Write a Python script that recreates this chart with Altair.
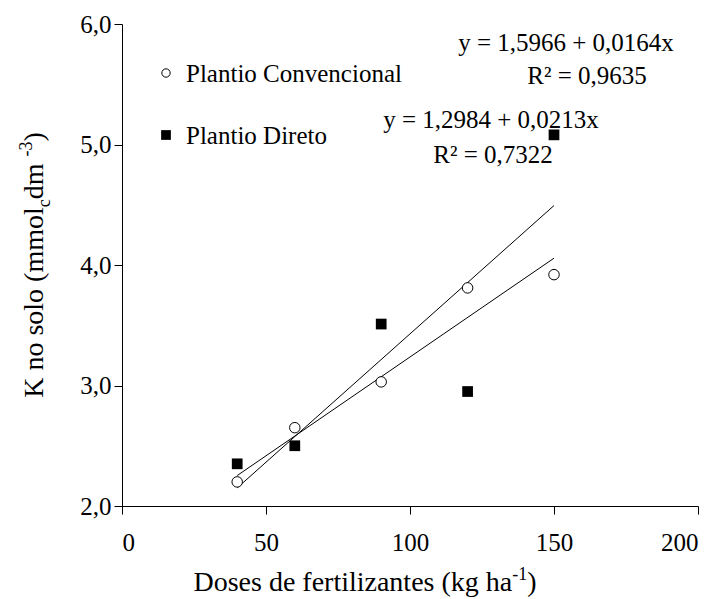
import altair as alt
import pandas as pd

# Potassium in soil versus fertilizer dose, two tillage systems
doses = [40, 60, 90, 120, 150]
k_convencional = [2.20, 2.65, 3.03, 3.81, 3.92]
k_direto = [2.35, 2.50, 3.51, 2.95, 5.08]

# fitted linear models (intercept, slope) and their R² as printed on the chart
coef_convencional = (1.5966, 0.0164)
coef_direto = (1.2984, 0.0213)
eq_convencional = "y = 1,5966 + 0,0164x"
eq_direto = "y = 1,2984 + 0,0213x"
r2_convencional = "R² = 0,9635"
r2_direto = "R² = 0,7322"

x_ticks = [0, 50, 100, 150, 200]
y_ticks = [2, 3, 4, 5, 6]

FONT = "Liberation Serif"
W, H = 576, 482
PAD = {"left": 122, "top": 24, "right": 22, "bottom": 93}

# Times-compatible advance widths (em) used to lay out titles with sub/superscripts
ADV = {'K': .722, ' ': .25, 'n': .5, 'o': .5, 's': .389, 'l': .278, '(': .333,
       ')': .333, 'm': .778, 'c': .444, 'd': .5, '-': .333, '3': .5, '1': .5,
       'D': .722, 'e': .444, 'f': .333, 'r': .333, 't': .278, 'i': .278,
       'z': .444, 'a': .444, 'k': .5, 'g': .5, 'h': .5}


def text_width(s, size):
    return sum(ADV.get(ch, .5) for ch in s) * size


one = pd.DataFrame({"k": [0]})


def label(text, x, y, size=25, align="left", angle=0, dx=0.0, dy=0.0):
    return alt.Chart(one).mark_text(
        text=text, font=FONT, fontSize=size, align=align, baseline="alphabetic",
        angle=angle, dx=dx, dy=dy, color="black"
    ).encode(x=alt.value(x), y=alt.value(y))


def rich_title(pieces, x, y, angle=0):
    """pieces: (text, size, shift) laid out along the baseline, centred on (x, y)."""
    total = sum(text_width(t, s) for t, s, _ in pieces)
    pos = -total / 2
    layers = []
    for t, s, shift in pieces:
        layers.append(label(t, x, y, size=s, angle=angle, dx=pos, dy=shift))
        pos += text_width(t, s)
    return layers


points = pd.DataFrame({
    "dose": doses * 2,
    "k": k_convencional + k_direto,
    "sistema": ["Convencional"] * len(doses) + ["Direto"] * len(doses),
})

fit_rows = []
for name, (a, b) in [("Convencional", coef_convencional), ("Direto", coef_direto)]:
    for d in (min(doses), max(doses)):
        fit_rows.append({"dose": d, "k": a + b * d, "sistema": name})
fits = pd.DataFrame(fit_rows)

x_enc = alt.X("dose:Q", scale=alt.Scale(domain=[0, 200], nice=False),
              axis=alt.Axis(values=x_ticks, title=None, labelPadding=16))
y_enc = alt.Y("k:Q", scale=alt.Scale(domain=[2, 6], nice=False, zero=False),
              axis=alt.Axis(values=y_ticks, title=None, labelPadding=3,
                            labelExpr="replace(format(datum.value, '.1f'), '.', ',')"))

lines = alt.Chart(fits).mark_line(color="black", strokeWidth=1).encode(
    x=x_enc, y=y_enc, detail="sistema:N")

circles = alt.Chart(points).transform_filter(
    alt.datum.sistema == "Convencional"
).mark_point(shape="circle", size=110, filled=True, fill="white",
             stroke="black", strokeWidth=1, opacity=1).encode(x=x_enc, y=y_enc)

squares = alt.Chart(points).transform_filter(
    alt.datum.sistema == "Direto"
).mark_point(shape="square", size=115, filled=True, color="black",
             opacity=1).encode(x=x_enc, y=y_enc)

# hand-drawn key
key_circle = alt.Chart(one).mark_point(
    shape="circle", size=70, filled=True, fill="white", stroke="black",
    strokeWidth=1, opacity=1).encode(x=alt.value(44), y=alt.value(49))
key_square = alt.Chart(one).mark_point(
    shape="square", size=95, filled=True, color="black", opacity=1
).encode(x=alt.value(44), y=alt.value(111))

annotations = [
    key_circle, key_square,
    label("Plantio Convencional", 64, 58),
    label("Plantio Direto", 64, 120),
    label(eq_convencional, 444, 27, align="center"),
    label(r2_convencional, 465, 60, align="center"),
    label(eq_direto, 369, 104, align="center"),
    label(r2_direto, 371, 139, align="center"),
]

y_title = rich_title(
    [("K no solo (mmol", 28, 0), ("c", 18, 7), (" dm", 28, 0),
     ("-3", 18, -11), (")", 28, 0)],
    -79, 241, angle=270)
x_title = rich_title(
    [("Doses de fertilizantes (kg ha", 28, 0), ("-1", 18, -11), (")", 28, 0)],
    243, 567)

chart = alt.layer(lines, circles, squares, *annotations, *y_title, *x_title).properties(
    width=W, height=H, padding=PAD, autosize=alt.AutoSizeParams(type="none")
).configure_view(stroke=None).configure_axis(
    grid=False, domainColor="black", domainWidth=1, tickColor="black",
    tickWidth=1, tickSize=8, labelColor="black", labelFont=FONT,
    labelFontSize=25
)

chart.save("out.html", embed_options={"renderer": "svg", "actions": False})
